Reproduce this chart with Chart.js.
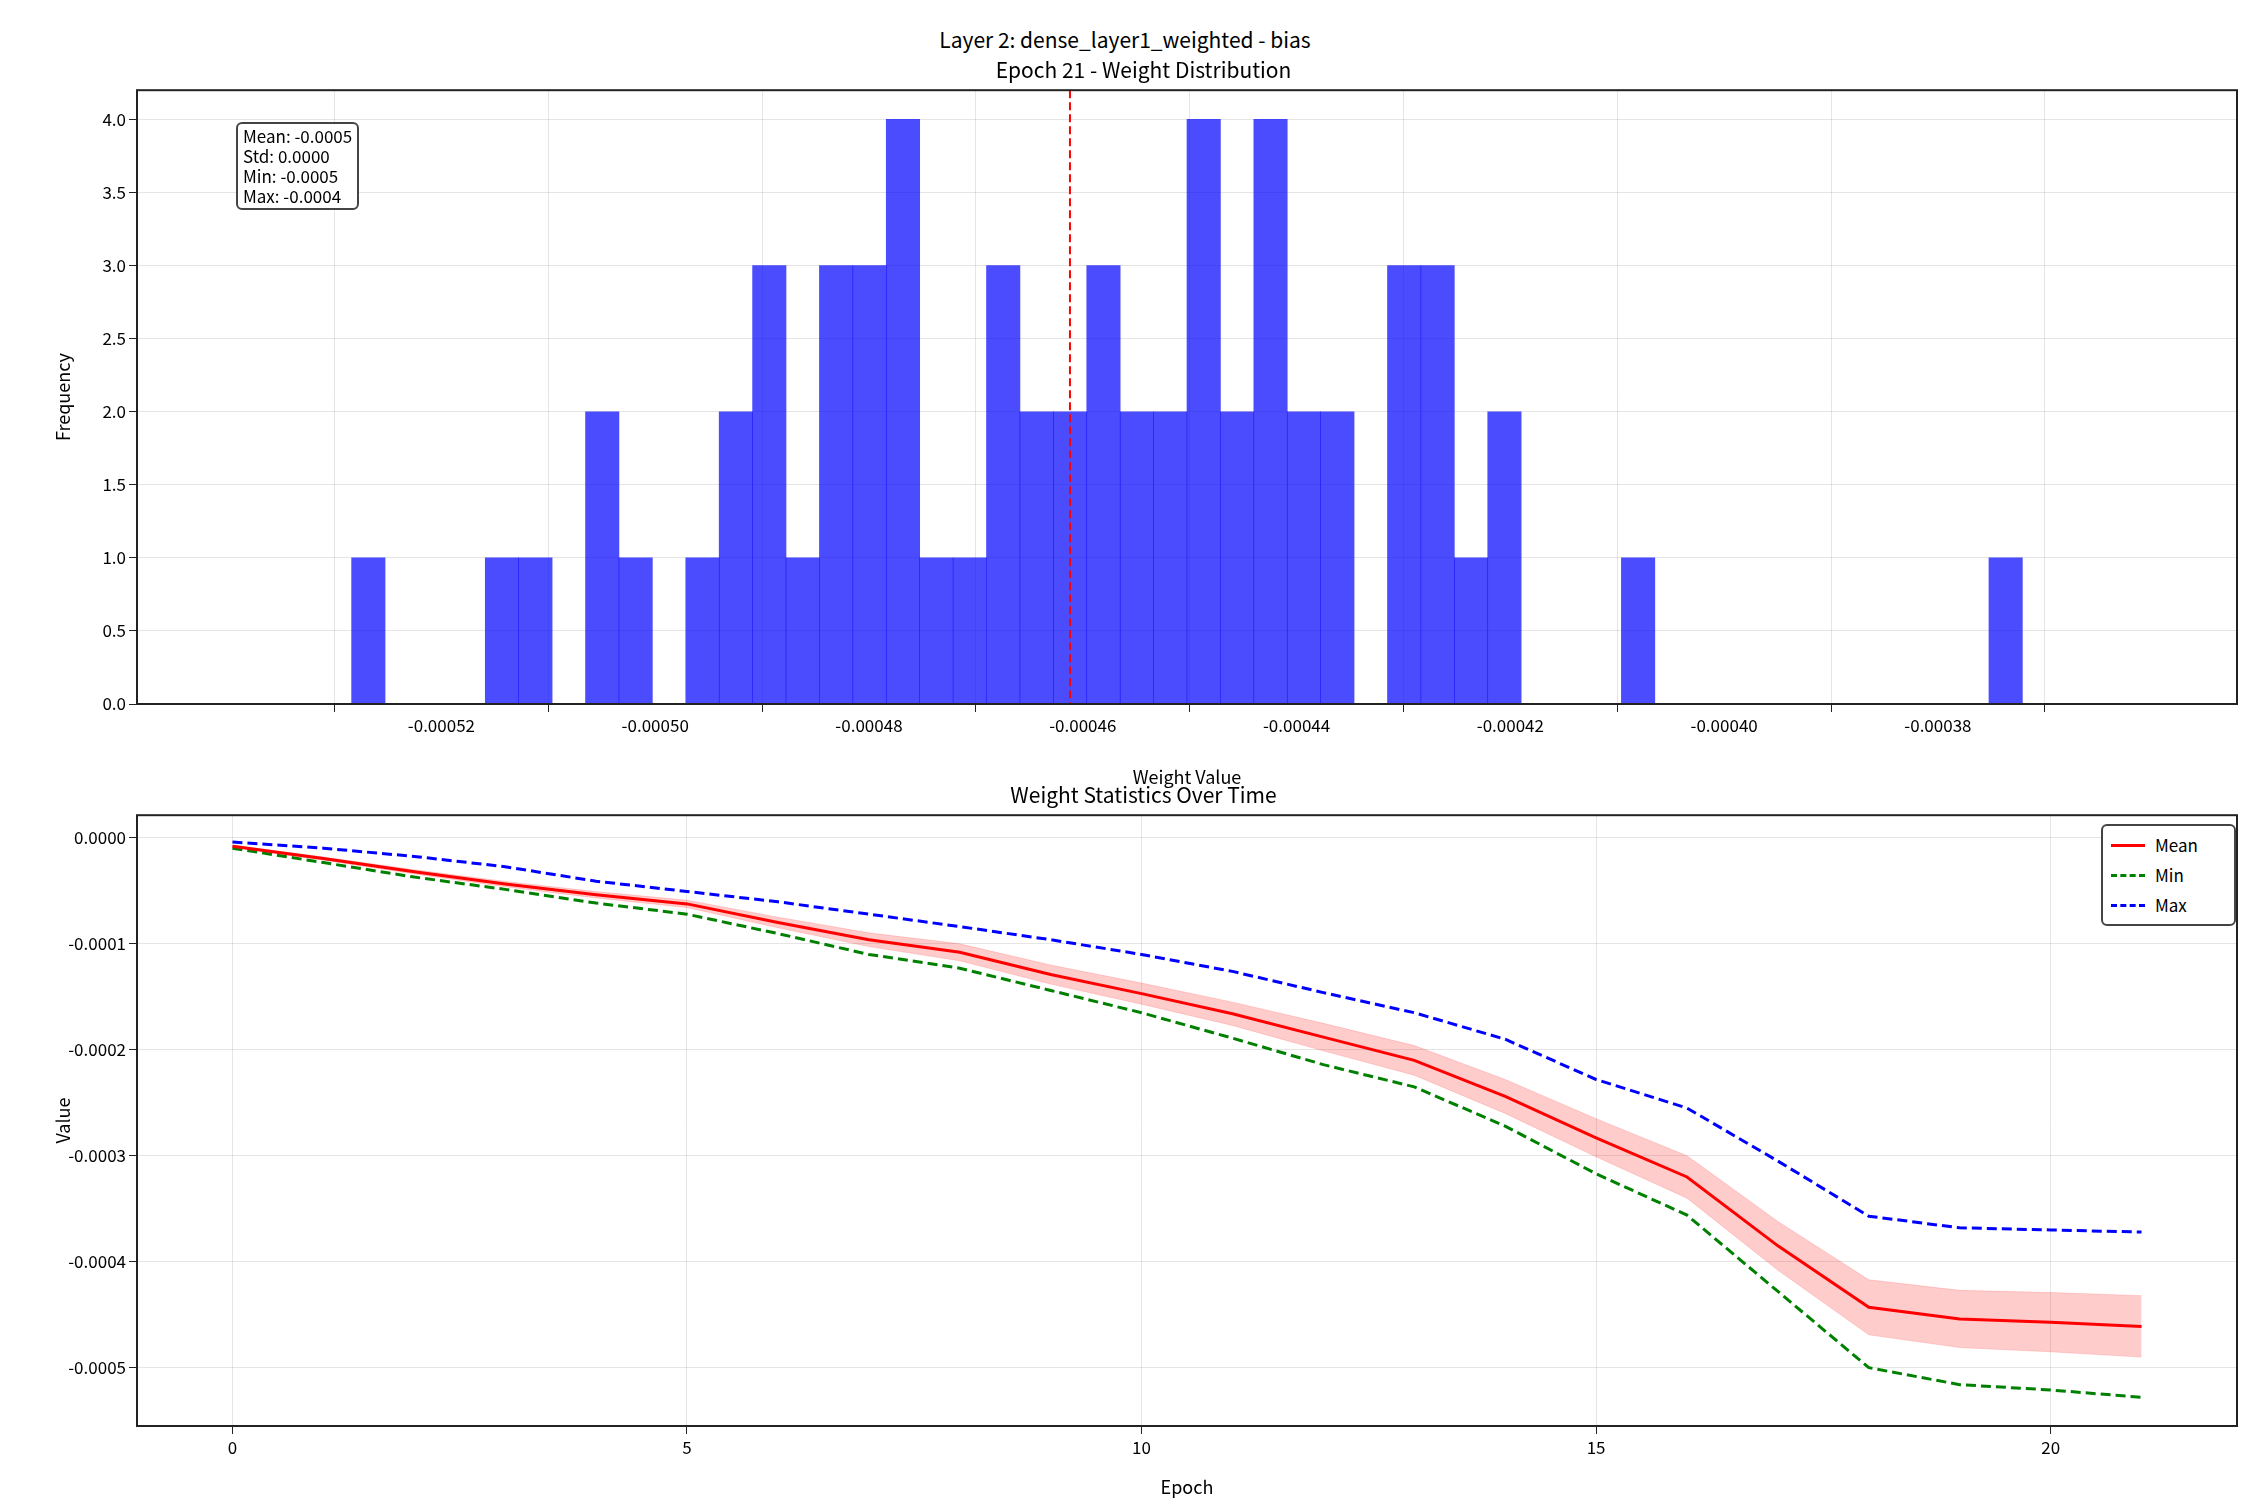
<!DOCTYPE html>
<html>
<head>
  <script src="https://cdn.jsdelivr.net/npm/chart.js"></script>
  <style>
    body { margin: 0; width: 2250px; height: 1500px; background: #fff; position: relative; font-family: 'Noto Sans CJK SC', sans-serif; overflow: hidden; }
    .title { position: absolute; left: 0; width: 2250px; text-align: center; font-size: 21px; color: #000; }
    .box { position: absolute; background: #fff; border: 2px solid #444; border-radius: 6px; font-size: 17px; line-height: 20px; padding: 2px 5px; }
    .cwrap { position: absolute; left: 0; width: 2250px; }
    .legend div { display: flex; align-items: center; height: 30px; }
    .legend span.l { display: inline-block; width: 34px; height: 0; border-top: 3px solid; margin-right: 10px; }
  </style>
</head>
<body>
  <div class="title" style="top:24px">Layer 2: dense_layer1_weighted - bias</div>
  <div class="cwrap" style="top:55px;height:735px"><canvas id="histChart"></canvas></div>
  <div class="cwrap" style="top:778px;height:722px"><canvas id="lineChart"></canvas></div>
  <div class="box" style="left:236px;top:122px">Mean: -0.0005<br>Std: 0.0000<br>Min: -0.0005<br>Max: -0.0004</div>
  <div class="box legend" style="left:2101px;top:824px;width:115px;padding:4px 8px">
    <div><span class="l" style="border-color:#f00"></span>Mean</div>
    <div><span class="l" style="border-color:#008000;border-top-style:dashed"></span>Min</div>
    <div><span class="l" style="border-color:#00f;border-top-style:dashed"></span>Max</div>
  </div>

  <script>
    // histogram: 50 bins of the bias values at epoch 21
    const binStart = -0.0005284;
    const binEnd = -0.0003721;
    const binCounts = [1,0,0,0,1,1,0,2,1,0, 1,2,3,1,3,3,4,1,1,3, 2,2,3,2,2,4,2,4,2,2, 0,3,3,1,2,0,0,0,1,0, 0,0,0,0,0,0,0,0,0,1];
    const meanValue = -0.0004612;
    const histTicks = [-0.00052, -0.00050, -0.00048, -0.00046, -0.00044, -0.00042, -0.00040, -0.00038];

    // statistics over epochs
    const epochs = [0,1,2,3,4,5,6,7,8,9,10,11,12,13,14,15,16,17,18,19,20,21];
    const meanVals = [-0.0000078,-0.0000195,-0.000032,-0.0000436,-0.0000537,-0.0000623,-0.0000798,-0.0000961,-0.000108,-0.000129,-0.000147,-0.000166,-0.000188,-0.00021,-0.000244,-0.000283,-0.00032,-0.000385,-0.000443,-0.000454,-0.000457,-0.000461];
    const stdVals = [0.000001,0.0000015,0.000002,0.0000025,0.000003,0.0000035,0.000005,0.0000065,0.000008,0.000009,0.00001,0.000011,0.000013,0.000014,0.000016,0.000018,0.00002,0.000023,0.000026,0.000027,0.000028,0.000029];
    const minVals = [-0.0000097,-0.0000233,-0.000037,-0.0000486,-0.0000615,-0.000072,-0.0000903,-0.00011,-0.000123,-0.000144,-0.000165,-0.000189,-0.000214,-0.000235,-0.000272,-0.000317,-0.000356,-0.000428,-0.0005,-0.000516,-0.000521,-0.000528];
    const maxVals = [-0.0000039,-0.0000097,-0.0000175,-0.0000272,-0.0000409,-0.0000506,-0.0000603,-0.000072,-0.0000837,-0.0000961,-0.00011,-0.000126,-0.000146,-0.000165,-0.00019,-0.000228,-0.000255,-0.000305,-0.000357,-0.000368,-0.00037,-0.000372];

    Chart.defaults.font.family = "'Noto Sans CJK SC', sans-serif";
    Chart.defaults.font.size = 17;
    Chart.defaults.color = '#000';
    Chart.defaults.animation = false;

    const gridColor = 'rgba(0,0,0,0.1)';

    const framePlugin = {
      id: 'frame',
      afterDraw(chart) {
        const a = chart.chartArea, c = chart.ctx;
        c.save();
        c.strokeStyle = '#222';
        c.lineWidth = 2;
        c.strokeRect(a.left, a.top, a.right - a.left, a.bottom - a.top);
        c.restore();
      }
    };

    const meanLinePlugin = {
      id: 'meanLine',
      afterDatasetsDraw(chart) {
        const x = chart.scales.x.getPixelForValue(meanValue);
        const a = chart.chartArea, c = chart.ctx;
        c.save();
        c.strokeStyle = '#f00';
        c.lineWidth = 2;
        c.setLineDash([8, 4]);
        c.beginPath();
        c.moveTo(x, a.top);
        c.lineTo(x, a.bottom);
        c.stroke();
        c.restore();
      }
    };

    const binWidth = (binEnd - binStart) / binCounts.length;
    const histData = binCounts.map((n, i) => ({ x: binStart + binWidth * (i + 0.5), y: n }));

    function fixedAxis(w, h) {
      return scale => {
        if (w !== undefined) scale.width = w;
        if (h !== undefined) scale.height = h;
      };
    }

    new Chart(document.getElementById('histChart'), {
      type: 'bar',
      data: {
        datasets: [{
          data: histData,
          backgroundColor: 'rgba(0,0,255,0.7)',
          barPercentage: 1,
          categoryPercentage: 1,
          borderWidth: 0
        }]
      },
      options: {
        responsive: true,
        maintainAspectRatio: false,
        layout: { padding: { left: 50, right: 13, top: 0 } },
        plugins: {
          legend: { display: false },
          tooltip: { enabled: false },
          title: { display: true, text: 'Epoch 21 - Weight Distribution', font: { size: 21, weight: 'normal' }, padding: { top: 2, bottom: 8 } }
        },
        scales: {
          x: {
            type: 'linear',
            min: -0.0005362,
            max: -0.0003643,
            afterBuildTicks: s => { s.ticks = histTicks.map(v => ({ value: v })); },
            afterFit: fixedAxis(undefined, 86),
            ticks: { callback: v => v.toFixed(5), maxRotation: 0 },
            grid: { color: gridColor, tickColor: '#222', tickLength: 8 },
            title: { display: true, text: 'Weight Value', font: { size: 18 }, padding: 2 }
          },
          y: {
            min: 0,
            max: 4.2,
            afterBuildTicks: s => { s.ticks = [0,0.5,1,1.5,2,2.5,3,3.5,4].map(v => ({ value: v })); },
            afterFit: fixedAxis(87),
            ticks: { callback: v => v.toFixed(1) },
            grid: { color: gridColor, tickColor: '#222', tickLength: 8 },
            title: { display: true, text: 'Frequency', font: { size: 18 }, padding: 2 }
          }
        }
      },
      plugins: [meanLinePlugin, framePlugin]
    });

    const pts = arr => arr.map((v, i) => ({ x: epochs[i], y: v }));

    new Chart(document.getElementById('lineChart'), {
      type: 'line',
      data: {
        datasets: [
          { label: 'upper', data: pts(meanVals.map((m, i) => m + stdVals[i])), borderColor: 'rgba(255,0,0,0.15)', borderWidth: 1, pointRadius: 0, fill: false },
          { label: 'lower', data: pts(meanVals.map((m, i) => m - stdVals[i])), borderColor: 'rgba(255,0,0,0.15)', borderWidth: 1, pointRadius: 0, fill: '-1', backgroundColor: 'rgba(255,0,0,0.2)' },
          { label: 'Mean', data: pts(meanVals), borderColor: '#f00', borderWidth: 3, pointRadius: 0 },
          { label: 'Min', data: pts(minVals), borderColor: '#008000', borderWidth: 3, borderDash: [10, 5], pointRadius: 0 },
          { label: 'Max', data: pts(maxVals), borderColor: '#00f', borderWidth: 3, borderDash: [10, 5], pointRadius: 0 }
        ]
      },
      options: {
        responsive: true,
        maintainAspectRatio: false,
        layout: { padding: { left: 50, right: 13, top: 0 } },
        plugins: {
          legend: { display: false },
          tooltip: { enabled: false },
          title: { display: true, text: 'Weight Statistics Over Time', font: { size: 21, weight: 'normal' }, padding: { top: 4, bottom: 8 } }
        },
        scales: {
          x: {
            type: 'linear',
            min: -1.05,
            max: 22.05,
            afterBuildTicks: s => { s.ticks = [0,5,10,15,20].map(v => ({ value: v })); },
            afterFit: fixedAxis(undefined, 74),
            ticks: { maxRotation: 0 },
            grid: { color: gridColor, tickColor: '#222', tickLength: 8 },
            title: { display: true, text: 'Epoch', font: { size: 18 }, padding: 2 }
          },
          y: {
            min: -0.000555,
            max: 0.0000214,
            afterBuildTicks: s => { s.ticks = [0,-0.0001,-0.0002,-0.0003,-0.0004,-0.0005].map(v => ({ value: v })); },
            afterFit: fixedAxis(137 - 50),
            ticks: { callback: v => (v === 0 ? 0 : v).toFixed(4) },
            grid: { color: gridColor, tickColor: '#222', tickLength: 8 },
            title: { display: true, text: 'Value', font: { size: 18 }, padding: 2 }
          }
        }
      },
      plugins: [framePlugin]
    });
  </script>
</body>
</html>
